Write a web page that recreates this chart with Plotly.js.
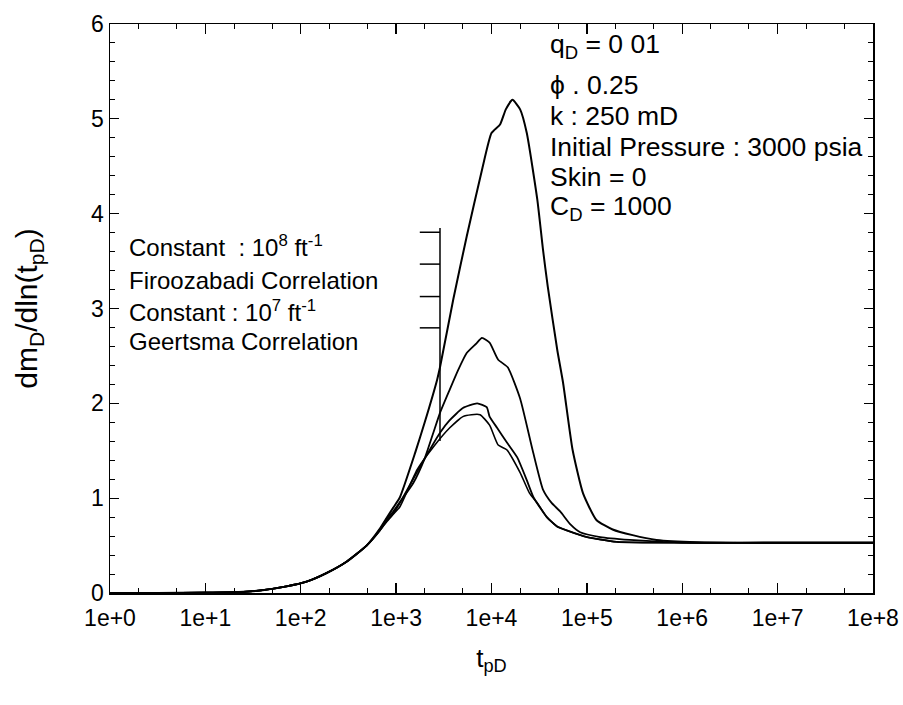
<!DOCTYPE html>
<html>
<head>
<meta charset="utf-8">
<script src="https://cdn.plot.ly/plotly-3.0.1.min.js"></script>
<style>html,body{margin:0;padding:0;background:#fff;}#chart{width:903px;height:705px;}</style>
</head>
<body>
<div id="chart"></div>
<script>
// t_pD values and dm_D/dln(t_pD) values
const tConst8 = [1,3.16,10,25.1,39.8,70.8,115,186,302,490,676,794,933,1096,1585,1995,2692,2884,3981,5495,7943,10000,12303,14125,16596,19953,23442,30200,34674,38905,48978,56234,70795,91201,125893,186209,301995,537032,1412538,1e7,1e8];
const yConst8 = [0,0.001,0.004,0.012,0.03,0.07,0.12,0.21,0.33,0.5,0.68,0.79,0.9,1.01,1.48,1.8,2.25,2.38,3.1,3.76,4.46,4.85,4.94,5.1,5.2,5.1,4.85,4.15,3.62,3.23,2.56,2.22,1.51,1.05,0.77,0.67,0.61,0.56,0.535,0.53,0.53];

const tFiroo = [1,3.16,10,25.1,39.8,70.8,115,186,302,490,676,794,933,1096,1514,1995,2455,2884,3631,4467,5495,6918,7943,9550,11749,14791,19953,26915,34674,42658,52481,67608,85114,138038,281838,630957,1584893,1e7,1e8];
const yFiroo = [0,0.001,0.004,0.012,0.03,0.07,0.12,0.21,0.33,0.5,0.67,0.78,0.86,0.96,1.16,1.42,1.69,1.9,2.14,2.35,2.53,2.63,2.69,2.64,2.46,2.38,2.05,1.51,1.09,0.95,0.86,0.72,0.64,0.59,0.56,0.54,0.53,0.53,0.53];

const tConst7 = [1,3.16,10,25.1,39.8,70.8,115,186,302,490,676,794,933,1096,1778,2884,3631,5012,7079,8913,9550,11482,14454,18621,23442,27542,38019,48978,61660,100000,204174,1e6,1e7,1e8];
const yConst7 = [0,0.001,0.004,0.012,0.03,0.07,0.12,0.21,0.33,0.5,0.66,0.76,0.84,0.95,1.33,1.69,1.82,1.95,2.0,1.96,1.86,1.74,1.59,1.43,1.19,1.01,0.8,0.7,0.66,0.59,0.54,0.53,0.53,0.53];

const tGeert = [1,3.16,10,25.1,39.8,70.8,115,186,302,490,676,794,933,1096,1660,2455,3631,5012,6166,7586,9550,11749,14454,19953,25119,30200,38019,48978,61660,100000,204174,1e6,1e7,1e8];
const yGeert = [0,0.001,0.004,0.012,0.03,0.07,0.12,0.21,0.33,0.5,0.66,0.75,0.83,0.91,1.3,1.54,1.74,1.86,1.88,1.88,1.77,1.56,1.51,1.27,1.05,0.95,0.8,0.7,0.66,0.59,0.54,0.53,0.53,0.53];

const xTickVals = [1,10,100,1000,10000,100000,1000000,10000000,100000000];
const xTickText = ['1e+0','1e+1','1e+2','1e+3','1e+4','1e+5','1e+6','1e+7','1e+8'];

const legendLabels = ['Constant  : 10<sup>8</sup> ft<sup>-1</sup>','Firoozabadi Correlation','Constant : 10<sup>7</sup> ft<sup>-1</sup>','Geertsma Correlation'];
const infoLines = ['q<sub>D</sub> = 0 01','\u03d5 . 0.25','k : 250 mD','Initial Pressure : 3000 psia','Skin = 0','C<sub>D</sub> = 1000'];

const FONT = 'Liberation Sans, Arial, sans-serif';
const mk = (x, y, w, name) => ({x, y, name, type:'scatter', mode:'lines', line:{color:'#000', width:w, shape:'spline', smoothing:0.5}, showlegend:false, hoverinfo:'skip'});
const data = [
  mk(tConst8, yConst8, 2, legendLabels[0]),
  mk(tFiroo, yFiroo, 1.8, legendLabels[1]),
  mk(tConst7, yConst7, 1.8, legendLabels[2]),
  mk(tGeert, yGeert, 1.6, legendLabels[3])
];

const legY = [0.61, 0.55, 0.496, 0.442];
const infoY = [0.962, 0.893, 0.838, 0.784, 0.731, 0.677];
const annotations = [];
legendLabels.forEach((t,i)=>annotations.push({xref:'paper',yref:'paper',x:0.022,y:legY[i],xanchor:'left',yanchor:'middle',text:t,showarrow:false,font:{family:FONT,size:24,color:'#000'}}));
infoLines.forEach((t,i)=>annotations.push({xref:'paper',yref:'paper',x:0.574,y:infoY[i],xanchor:'left',yanchor:'middle',text:t,showarrow:false,font:{family:FONT,size:26.5,color:'#000'}}));

const shapes = [
  {type:'line',xref:'paper',yref:'paper',x0:0.4325,x1:0.4325,y0:0.6415,y1:0.267,line:{color:'#000',width:1.5}},
  {type:'line',xref:'paper',yref:'paper',x0:0.406,x1:0.4325,y0:0.634,y1:0.634,line:{color:'#000',width:1.5}},
  {type:'line',xref:'paper',yref:'paper',x0:0.406,x1:0.4325,y0:0.578,y1:0.578,line:{color:'#000',width:1.5}},
  {type:'line',xref:'paper',yref:'paper',x0:0.406,x1:0.4325,y0:0.521,y1:0.521,line:{color:'#000',width:1.5}},
  {type:'line',xref:'paper',yref:'paper',x0:0.406,x1:0.4325,y0:0.466,y1:0.466,line:{color:'#000',width:1.5}}
];

const layout = {
  width:903, height:705,
  margin:{l:110, r:30, t:24, b:112},
  paper_bgcolor:'#fff', plot_bgcolor:'#fff',
  font:{family:FONT, color:'#000', size:24},
  showlegend:false,
  xaxis:{
    type:'log', range:[0,8],
    tickvals:xTickVals, ticktext:xTickText,
    ticks:'inside', ticklen:10, tickwidth:1.3, tickcolor:'#000',
    ticklabelstandoff:4,
    minor:{ticks:'inside', ticklen:5, tickwidth:1, tickcolor:'#000', showgrid:false},
    showline:true, linecolor:'#000', linewidth:1.5, mirror:'ticks',
    showgrid:false, zeroline:false,
    tickfont:{family:FONT, size:23, color:'#000'},
    title:{text:'t<sub>pD</sub>', font:{family:FONT, size:26, color:'#000'}, standoff:18}
  },
  yaxis:{
    range:[0,6], dtick:1,
    ticks:'inside', ticklen:9, tickwidth:1.3, tickcolor:'#000',
    minor:{ticks:'inside', ticklen:5, dtick:0.2, tickwidth:1, tickcolor:'#000', showgrid:false},
    showline:true, linecolor:'#000', linewidth:1.5, mirror:'ticks',
    showgrid:false, zeroline:false,
    tickfont:{family:FONT, size:23, color:'#000'},
    title:{text:'dm<sub>D</sub>/dln(t<sub>pD</sub>)', font:{family:FONT, size:30, color:'#000'}, standoff:44}
  },
  annotations, shapes
};
Plotly.newPlot('chart', data, layout, {staticPlot:true, displayModeBar:false});
</script>
</body>
</html>
